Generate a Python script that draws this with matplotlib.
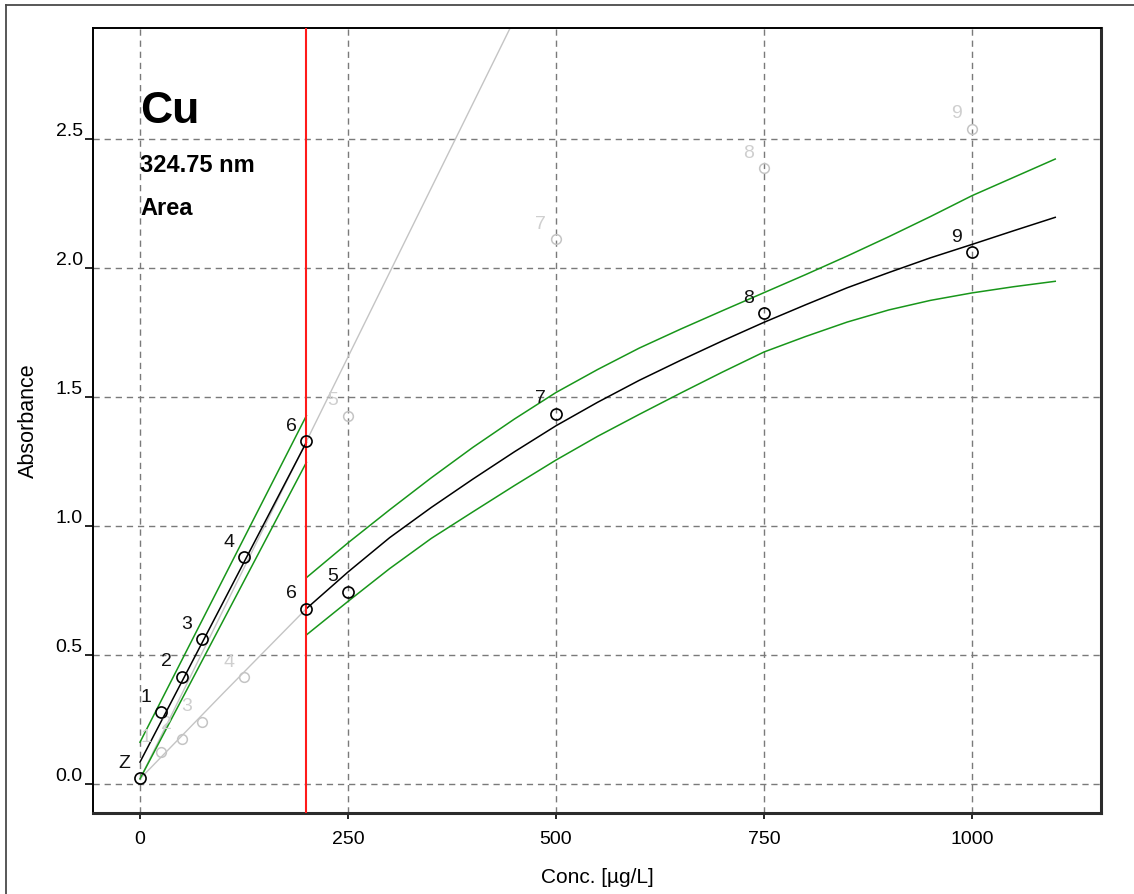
import matplotlib.pyplot as plt
from matplotlib.lines import Line2D

plt.rcParams['font.family'] = ['Liberation Sans', 'DejaVu Sans']

# standards, low range (0 - 200 ug/L)
low_ids = ['Z', '1', '2', '3', '4', '6']
low_conc = [0, 25, 50, 75, 125, 200]
low_abs = [0.023, 0.278, 0.416, 0.562, 0.879, 1.329]

# standards, high range (200 - 1000 ug/L)
high_ids = ['6', '5', '7', '8', '9']
high_conc = [200, 250, 500, 750, 1000]
high_abs = [0.679, 0.746, 1.435, 1.826, 2.062]

# the other range's standards, shown greyed out
grey_ids = ['1', '2', '3', '4', '5', '7', '8', '9']
grey_conc = [25, 50, 75, 125, 250, 500, 750, 1000]
grey_abs = [0.123, 0.174, 0.242, 0.414, 1.428, 2.113, 2.387, 2.540]

# linear fit, low range, with confidence limits
lin_x = [0, 200]
lin_fit = [0.085, 1.325]
lin_upper = [0.162, 1.428]
lin_lower = [0.020, 1.247]

# curved fit, high range, with confidence limits
curve_x = [200, 250, 300, 350, 400, 450, 500, 550, 600, 650,
           700, 750, 800, 850, 900, 950, 1000, 1050, 1100]
curve_fit = [0.680, 0.822, 0.955, 1.072, 1.182, 1.288, 1.389, 1.480, 1.565, 1.643,
             1.718, 1.790, 1.858, 1.924, 1.983, 2.040, 2.092, 2.145, 2.197]
curve_upper = [0.800, 0.935, 1.063, 1.187, 1.305, 1.415, 1.518, 1.607, 1.690, 1.764,
               1.835, 1.905, 1.975, 2.047, 2.122, 2.200, 2.281, 2.352, 2.423]
curve_lower = [0.578, 0.708, 0.835, 0.952, 1.055, 1.157, 1.256, 1.348, 1.433, 1.516,
               1.597, 1.675, 1.735, 1.791, 1.838, 1.875, 1.904, 1.928, 1.949]

# each fit extended outside its own range (grey)
ext_lin_x = [0, 460]
ext_lin_y = [0.020, 3.030]
ext_curve_x = [0, 100, 200]
ext_curve_y = [0.020, 0.352, 0.680]

range_split = 200

xticks = [0, 250, 500, 750, 1000]
yticks = [0.0, 0.5, 1.0, 1.5, 2.0, 2.5]

fig = plt.figure(figsize=(11.34, 8.95), dpi=100)
ax = fig.add_axes([0.0820, 0.0905, 0.8889, 0.8768])

green = '#18961a'
light = '#c4c4c4'

ax.plot(ext_lin_x, ext_lin_y, color=light, lw=1.0, zorder=2)
ax.plot(ext_curve_x, ext_curve_y, color=light, lw=1.0, zorder=2)

ax.plot(lin_x, lin_upper, color=green, lw=1.1, zorder=3)
ax.plot(lin_x, lin_lower, color=green, lw=1.1, zorder=3)
ax.plot(lin_x, lin_fit, color='black', lw=1.1, zorder=3)

ax.plot(curve_x, curve_upper, color=green, lw=1.1, zorder=3)
ax.plot(curve_x, curve_lower, color=green, lw=1.1, zorder=3)
ax.plot(curve_x, curve_fit, color='black', lw=1.1, zorder=3)

ax.axvline(range_split, color='#ff1a1a', lw=1.5, zorder=4)

ax.plot(grey_conc, grey_abs, 'o', ms=7, mfc='none', mec=light, mew=1.1, zorder=5)
ax.plot(low_conc, low_abs, 'o', ms=8, mfc='none', mec='black', mew=1.2, zorder=6)
ax.plot(high_conc, high_abs, 'o', ms=8, mfc='none', mec='black', mew=1.2, zorder=6)

for name, x, y in zip(grey_ids, grey_conc, grey_abs):
    ax.annotate(name, (x, y), xytext=(-11, 11.5), textcoords='offset points',
                ha='center', va='center', fontsize=14, color='#cfcfcf', zorder=5)
for ids, xs, ys in [(low_ids, low_conc, low_abs), (high_ids, high_conc, high_abs)]:
    for name, x, y in zip(ids, xs, ys):
        ax.annotate(name, (x, y), xytext=(-11, 11.5), textcoords='offset points',
                    ha='center', va='center', fontsize=14, color='#111111', zorder=7)

ax.text(0.0466, 0.8806, 'Cu', transform=ax.transAxes, fontsize=32,
        fontweight='bold', va='baseline', ha='left')
ax.text(0.0466, 0.8182, '324.75 nm', transform=ax.transAxes, fontsize=17,
        fontweight='bold', va='baseline', ha='left')
ax.text(0.0466, 0.7633, 'Area', transform=ax.transAxes, fontsize=17,
        fontweight='bold', va='baseline', ha='left')

ax.set_xlim(-56.5, 1155)
ax.set_ylim(-0.1124, 2.930)
ax.set_xticks(xticks)
ax.set_xticklabels([str(v) for v in xticks])
ax.set_yticks(yticks)
ax.set_yticklabels(['%.1f' % v for v in yticks])
for lbl in ax.get_yticklabels():
    lbl.set_va('bottom')

ax.tick_params(axis='x', direction='out', length=4.5, width=1.2, pad=8,
               labelsize=14, colors='black')
ax.tick_params(axis='y', direction='out', length=5.8, width=1.2, pad=1.5,
               labelsize=14, colors='black')

ax.grid(True, color='#7a7a7a', linestyle=(0, (4.5, 3.5)), lw=1.0, zorder=1)
ax.set_axisbelow(True)

for side in ['left', 'top']:
    ax.spines[side].set_linewidth(1.4)
    ax.spines[side].set_color('black')
for side in ['right', 'bottom']:
    ax.spines[side].set_linewidth(2.2)
    ax.spines[side].set_color('#2b2b2b')

ax.set_xlabel('Conc. [µg/L]', fontsize=15, labelpad=14)
fig.text(28 / 1134, 0.530, 'Absorbance', rotation=90, fontsize=15.5,
         ha='center', va='center')

# outer panel border
fig.add_artist(Line2D([6 / 1134, 6 / 1134], [0, 1 - 6 / 895],
                      transform=fig.transFigure, color='#4a4a4a', lw=1.3))
fig.add_artist(Line2D([6 / 1134, 1], [1 - 6 / 895, 1 - 6 / 895],
                      transform=fig.transFigure, color='#4a4a4a', lw=1.3))

fig.savefig('out.png', dpi=100, facecolor='white')
